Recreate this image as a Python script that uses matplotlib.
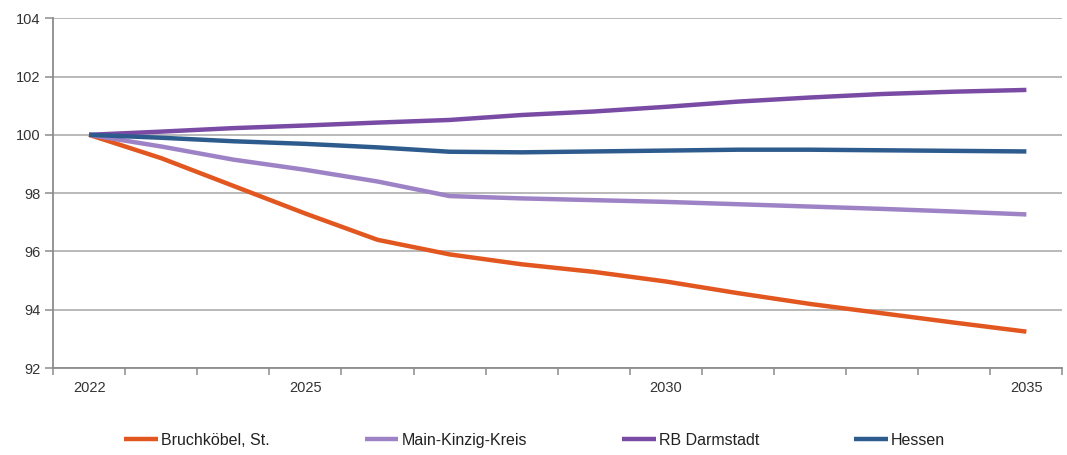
import matplotlib.pyplot as plt
import numpy as np

plt.rcParams['font.family'] = ['Liberation Sans Narrow', 'Liberation Sans', 'DejaVu Sans']

years = list(range(2022, 2036))
label_years = [2022, 2025, 2030, 2035]

bruchkoebel = [100.0, 99.2, 98.25, 97.3, 96.4, 95.9, 95.56, 95.3, 94.97, 94.57, 94.2, 93.88, 93.56, 93.25]
main_kinzig = [100.0, 99.6, 99.15, 98.8, 98.4, 97.9, 97.82, 97.76, 97.7, 97.62, 97.54, 97.46, 97.37, 97.27]
rb_darmstadt = [100.0, 100.11, 100.23, 100.32, 100.42, 100.51, 100.68, 100.8, 100.96, 101.14, 101.28, 101.4, 101.48, 101.54]
hessen = [100.0, 99.9, 99.78, 99.69, 99.57, 99.42, 99.4, 99.43, 99.46, 99.49, 99.49, 99.47, 99.45, 99.43]

names = ['Bruchköbel, St.', 'Main-Kinzig-Kreis', 'RB Darmstadt', 'Hessen']
colors = ['#E2561F', '#9E82C6', '#7A4BA5', '#2E5B8D']

fig = plt.figure(figsize=(10.67, 4.55), dpi=100)
ax = fig.add_axes([0.0497, 0.191, 0.946, 0.769])

x = np.arange(len(years))
for vals, name, c in zip([bruchkoebel, main_kinzig, rb_darmstadt, hessen], names, colors):
    ax.plot(x, vals, color=c, lw=3.2, label=name, solid_capstyle='butt', solid_joinstyle='round')

ax.set_xlim(-0.5, len(years) - 0.5)
ax.set_ylim(92, 104)
ax.set_yticks(np.arange(92, 105, 2))
ax.yaxis.grid(True, color='#A6A6A6', lw=1.1)
ax.set_axisbelow(True)

ax.set_xticks(np.arange(-0.5, len(years), 1.0))
ax.set_xticklabels([])
ax.set_xticks([years.index(y) for y in label_years], minor=True)
ax.set_xticklabels([str(y) for y in label_years], minor=True)
ax.tick_params(axis='x', which='major', length=5, width=1.1, color='#8C8C8C', direction='out')
ax.tick_params(axis='x', which='minor', length=0, pad=9, labelsize=10.5, labelcolor='#333333')
ax.tick_params(axis='y', length=6, width=1.1, color='#8C8C8C', labelsize=10.5, labelcolor='#333333', pad=3)

for s in ['top', 'right']:
    ax.spines[s].set_visible(False)
for s in ['left', 'bottom']:
    ax.spines[s].set_color('#8C8C8C')
    ax.spines[s].set_linewidth(1.3)

fig.legend(loc='center', bbox_to_anchor=(0.501, 0.032), ncol=4, frameon=False,
           fontsize=11.5, handlelength=2.1, handletextpad=0.2, columnspacing=5.95,
           labelcolor='#222222')

fig.savefig('out.png', dpi=100)
